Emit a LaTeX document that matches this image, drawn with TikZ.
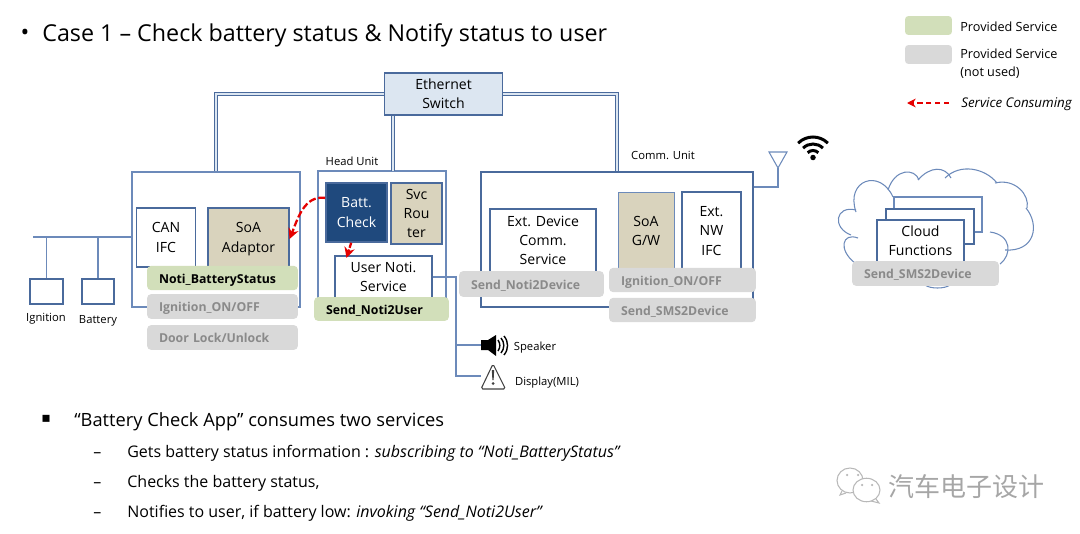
\documentclass[tikz,border=0pt]{standalone}
\usepackage{fontspec}
\setmainfont{Open Sans}
\newfontfamily\cjk{Noto Sans CJK SC}
\newfontfamily\symfont{DejaVu Sans}
\usetikzlibrary{arrows.meta}

\definecolor{wireblue}{HTML}{6C8ABA}
\definecolor{darkline}{HTML}{4A6A9C}
\definecolor{switchfill}{HTML}{DCE6F1}
\definecolor{khaki}{HTML}{D9D3BD}
\definecolor{navy}{HTML}{1F497D}
\definecolor{usedgreen}{HTML}{D2DFBA}
\definecolor{unusedgray}{HTML}{D9D9D9}
\definecolor{unusedtext}{HTML}{8A8A8A}

\begin{document}
\begin{tikzpicture}[
  x=0.02cm, y=-0.02cm,
  ecu/.style={draw=wireblue, line width=0.7pt, fill=white, inner sep=0pt},
  sw/.style={draw=darkline, line width=0.9pt, fill=white, inner sep=0pt, align=center, font=\fontsize{8}{11}\selectfont},
  soa/.style={sw, fill=khaki},
  provided/.style={fill=usedgreen, rounded corners=2.5pt, inner xsep=0.24cm, inner ysep=0pt, align=left, text height=6pt, text depth=0pt, font=\fontsize{7}{9}\selectfont\bfseries},
  unused/.style={provided, fill=unusedgray, text=unusedtext},
  wire/.style={draw=wireblue, line width=0.6pt},
  ethlink/.style={draw=darkline, line width=0.7pt, double=switchfill, double distance=0.6pt},
  consume/.style={-{Stealth[length=6pt,width=6pt]}, red!90!black, line width=1.3pt, dash pattern=on 4pt off 1.5pt},
  tag/.style={font=\fontsize{6.4}{8}\selectfont},
  heading/.style={font=\fontsize{13.25}{16}\selectfont, inner sep=0pt},
  body/.style={font=\fontsize{10.4}{12}\selectfont, anchor=west, inner sep=0pt},
  subbody/.style={font=\fontsize{9.1}{11}\selectfont, anchor=west, inner sep=0pt},
  legendtxt/.style={font=\fontsize{7.2}{10.2}\selectfont, anchor=west, align=left, inner sep=0pt},
]
\useasboundingbox (0,0) rectangle (1080,534);

% --- Title ---
\node[heading] (titledot) at (25,35) {•};
\node[heading, anchor=west] (title) at (42,35) {Case 1 – Check battery status \& Notify status to user};

% --- Legend ---
\node[fill=usedgreen, rounded corners=2pt, minimum width=0.94cm, minimum height=0.38cm, inner sep=0pt] (leggreen) at (928.5,25.5) {};
\node[fill=unusedgray, rounded corners=2pt, minimum width=0.94cm, minimum height=0.38cm, inner sep=0pt] (leggray) at (928.5,54.5) {};
\node[legendtxt] (legusedtxt) at (960,27) {Provided Service};
\node[legendtxt] (legunusedtxt) at (960,64) {Provided Service\\(not used)};
\coordinate (legtail) at (949,103);
\coordinate (legtip) at (907,103);
\draw[-{Stealth[length=5pt,width=5pt]}, red!90!black, line width=0.6pt, densely dashed] (legtail) -- (legtip);
\node[legendtxt, font=\fontsize{7.6}{9}\selectfont\itshape] (legarrowtxt) at (961,104.5) {Service Consuming};

% --- Ethernet Switch ---
\node[sw, fill=switchfill, minimum width=2.36cm, minimum height=0.84cm] (switch) at (443.5,94) {Ethernet\\Switch};

% --- Body ECU ---
\node[ecu, minimum width=3.36cm, minimum height=2.7cm] (bcm) at (216,239.5) {};
\node[sw, line width=0.7pt, minimum width=1.18cm, minimum height=1.18cm] (canifc) at (166,237.5) {CAN\\IFC};
\node[soa, minimum width=1.61cm, minimum height=1.24cm] (soaadaptor) at (248.5,239) {SoA\\Adaptor};
\node[provided, text width=2.54cm, minimum height=0.49cm] (notibatt) at (222.5,278) {Noti\_BatteryStatus};
\node[unused, text width=2.54cm, minimum height=0.5cm] (ignbody) at (222.5,306.5) {Ignition\_ON/OFF};
\node[unused, text width=2.54cm, minimum height=0.5cm] (doorlock) at (222.5,337.5) {Door Lock/Unlock};

% Sensors on the bus
\node[sw, line width=0.7pt, minimum width=0.66cm, minimum height=0.5cm] (ignbox) at (46.5,291.5) {};
\node[sw, line width=0.7pt, minimum width=0.64cm, minimum height=0.5cm] (batbox) at (98,291.5) {};
\node[tag] (igntxt) at (46,318.5) {Ignition};
\node[tag] (battxt) at (98,321) {Battery};
\coordinate (busend) at (33,237);
\draw[wire] (bcm.west |- busend) -- (busend);
\draw[wire] (ignbox.north |- busend) -- (ignbox.north);
\draw[wire] (batbox.north |- busend) -- (batbox.north);

% --- Head Unit ---
\node[tag] (headtxt) at (352,161) {Head Unit};
\node[ecu, minimum width=2.56cm, minimum height=2.58cm] (headunit) at (382,235.5) {};
\node[sw, draw=darkline, fill=navy, text=white, minimum width=1.22cm, minimum height=1.18cm] (batt) at (356.5,212.5) {Batt.\\Check};
\node[soa, minimum width=1.02cm, minimum height=1.22cm] (router) at (416.5,213.5) {Svc\\Rou\\ter};
\node[sw, line width=0.7pt, minimum width=1.94cm, minimum height=0.84cm] (usernoti) at (383.5,277) {User Noti.\\Service};
\node[provided, text width=2.22cm, minimum height=0.48cm] (sendnoti) at (381.5,309) {Send\_Noti2User};

% --- Comm. Unit ---
\node[tag] (commtxt) at (663,155) {Comm. Unit};
\node[ecu, draw=darkline, line width=0.9pt, minimum width=5.44cm, minimum height=2.7cm] (comm) at (617,239.5) {};
\node[sw, minimum width=2.12cm, minimum height=1.26cm] (extdev) at (543,240.5) {Ext. Device\\Comm.\\Service};
\node[soa, draw=wireblue, line width=0.5pt, minimum width=1.12cm, minimum height=1.56cm] (soagw) at (646,231) {SoA\\G/W};
\node[sw, minimum width=1.18cm, minimum height=1.56cm] (extnw) at (711.5,231) {Ext.\\NW\\IFC};
\node[unused, text width=2.42cm, minimum height=0.52cm] (senddev) at (531.5,284) {Send\_Noti2Device};
\node[unused, text width=2.46cm, minimum height=0.49cm] (igngw) at (682.5,280) {Ignition\_ON/OFF};
\node[unused, text width=2.46cm, minimum height=0.49cm] (sendsms) at (682.5,310) {Send\_SMS2Device};

% Ethernet links
\coordinate (headport) at (393,171);
\draw[ethlink] (switch.west) -| (bcm.north);
\draw[ethlink] (switch.east) -| (comm.north);
\draw[ethlink] (headport |- switch.south) -- (headport);

% Service consuming arrows
\coordinate (notiport) at (346.5,258);
\draw[consume] (batt.155) to[out=172, in=68] (soaadaptor.east);
\draw[consume, dash pattern=on 3pt off 1pt] (batt.260) -- (notiport);

% --- Antenna ---
\coordinate (antfoot) at (778,187);
\coordinate (anttip) at (778,168);
\draw[wire] (comm.east |- antfoot) -- (antfoot) -- (anttip);
\draw[wire] (anttip) -- (769,152) -- (787,152) -- cycle;
\node[circle, fill=black, minimum size=0.11cm, inner sep=0pt] (wifidot) at (813,157.5) {};
\foreach \r in {0.15,0.28,0.42}
  \draw[black, line width=0.06cm] (813,158) ++(45:\r cm) arc[start angle=45, end angle=135, radius=\r cm];

% --- Audio / display outputs ---
\coordinate (splitpt) at (456,277);
\coordinate (speakerport) at (481,345);
\coordinate (displayport) at (481,376);
\draw[wire] (usernoti.east) -- (splitpt) |- (speakerport);
\draw[wire] (splitpt) |- (displayport);

% Speaker icon
\fill[black] (481,340) -- (488,340) -- (496,335) -- (496,356) -- (488,350) -- (481,350) -- cycle;
\draw[black, line width=0.8pt] (498,340) to[bend left=35] (498,351);
\draw[black, line width=0.8pt] (501,338) to[bend left=40] (501,353);
\draw[black, line width=0.8pt] (504,336) to[bend left=40] (504,355);
\node[tag] (speakertxt) at (535,348) {Speaker};

% Warning icon
\draw[black!75, line width=0.6pt, rounded corners=1pt] (493,364) -- (505.5,389) -- (481,389) -- cycle;
\fill[black!75] (491.8,370) -- (494.2,370) -- (493.6,380) -- (492.4,380) -- cycle;
\fill[black!75] (493,383.5) circle[radius=0.03cm];
\node[tag] (displaytxt) at (547,383) {Display(MIL)};

% --- Cloud ---
\draw[wire] (855,263) .. controls (838,250) and (842,232) .. (858,238);
\draw[wire] (851,235) .. controls (832,228) and (835,205) .. (856,210);
\draw[wire] (856,212) .. controls (845,180) and (880,168) .. (893,197);
\draw[wire] (888,190) .. controls (895,168) and (915,168) .. (919,180);
\draw[wire] (918,180) .. controls (930,166) and (945,166) .. (951,178);
\draw[wire] (945,178) .. controls (960,163) and (985,168) .. (997,183);
\draw[wire] (995,183) .. controls (1015,178) and (1030,195) .. (1027,208);
\draw[wire] (1026,208) .. controls (1040,225) and (1035,252) .. (1005,250);
\draw[wire] (990,232) .. controls (1012,235) and (1012,255) .. (1000,264);
\draw[wire] (925,285) .. controls (930,289) and (945,289) .. (950,285);
\node[sw, draw=wireblue, line width=0.6pt, minimum width=1.76cm, minimum height=0.7cm] (cloudback) at (938,214.5) {};
\node[sw, minimum width=1.76cm, minimum height=0.7cm] (cloudmid) at (930,226.5) {};
\node[sw, minimum width=1.74cm, minimum height=0.84cm] (cloudfront) at (920.5,241) {Cloud\\Functions};
\node[unused, text width=2.46cm, minimum height=0.5cm] (cloudsms) at (925.5,273.5) {Send\_SMS2Device};

% --- Explanation ---
\node[body, font=\symfont\fontsize{8}{10}\selectfont] (subdot) at (41,419) {▪};
\node[body] (apptxt) at (74,422) {“Battery Check App” consumes two services};
\node[subbody] (dashone) at (93,455) {–};
\node[subbody] (getstxt) at (127,453) {Gets battery status information : \textit{subscribing to “Noti\_BatteryStatus”}};
\node[subbody] (dashtwo) at (93,485) {–};
\node[subbody] (checkstxt) at (127,483) {Checks the battery status,};
\node[subbody] (dashthree) at (93,515) {–};
\node[subbody] (notifiestxt) at (127,513) {Notifies to user, if battery low: \textit{invoking “Send\_Noti2User”}};

% --- Watermark ---
\draw[black!28, line width=0.6pt, fill=white] (842,491) -- (840,495) -- (846,493);
\draw[black!28, line width=0.6pt, fill=white] (850,480.5) circle[x radius=0.26cm, y radius=0.25cm];
\draw[black!28, line width=0.6pt, fill=white] (876,499) -- (879,503) -- (871,501);
\draw[black!28, line width=0.6pt, fill=white] (866.5,490) circle[x radius=0.27cm, y radius=0.235cm];
\foreach \x/\y in {847/475, 858/475, 862/485, 872/485}
  \fill[black!28] (\x,\y) circle[radius=0.025cm];
\node[text=black!35, font=\cjk\fontsize{14.8}{16}\selectfont, anchor=west, inner sep=0pt] (watermark) at (888,487) {汽车电子设计};

\end{tikzpicture}
\end{document}
